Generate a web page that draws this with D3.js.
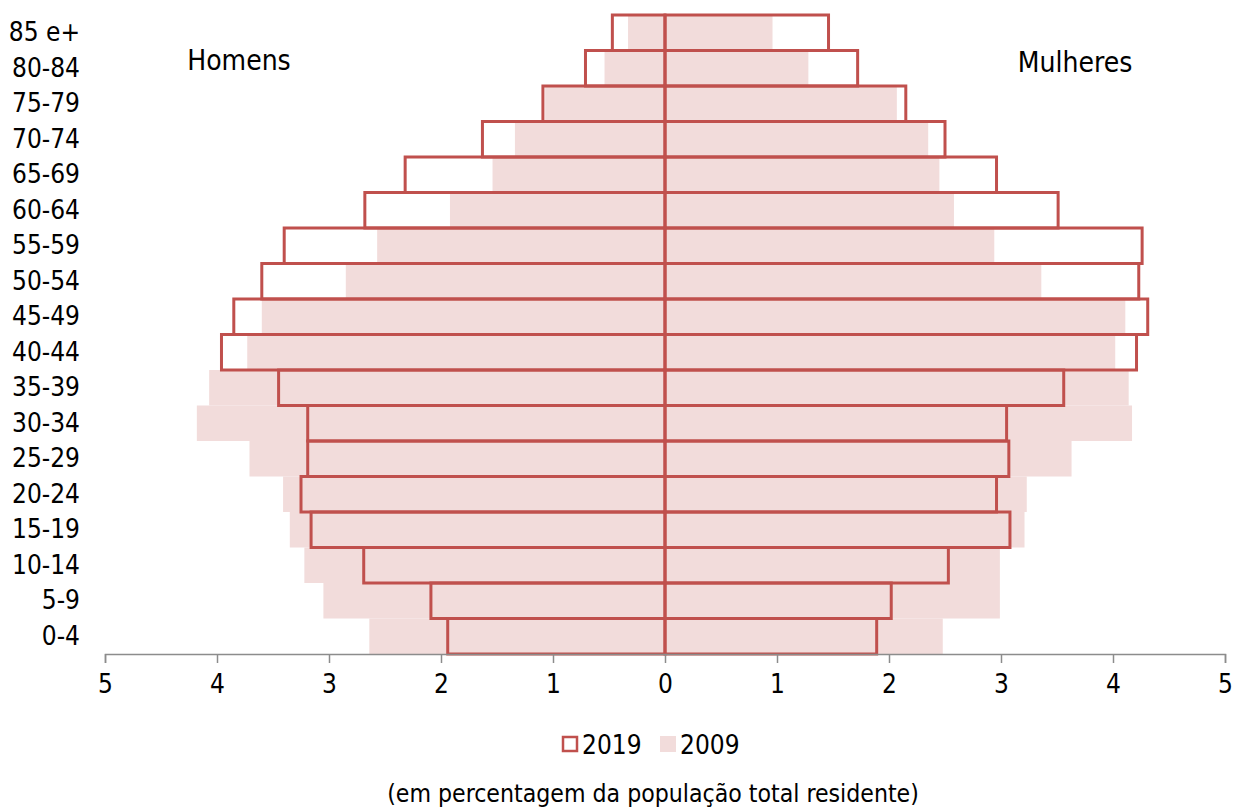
<!DOCTYPE html>
<html><head><meta charset="utf-8">
<script src="https://cdn.jsdelivr.net/npm/d3@7/dist/d3.min.js"></script>
<style>
body{margin:0;background:#fff;}
svg text{font-family:"DejaVu Sans Condensed","DejaVu Sans",sans-serif;font-stretch:condensed;fill:#000;}
</style></head>
<body><svg id="c" width="1236" height="807"></svg>
<script>
const ageGroups = ["85 e+","80-84","75-79","70-74","65-69","60-64","55-59","50-54","45-49","40-44","35-39","30-34","25-29","20-24","15-19","10-14","5-9","0-4"];
const men2019   = [0.47,0.71,1.09,1.63,2.32,2.68,3.40,3.60,3.85,3.96,3.45,3.19,3.19,3.25,3.16,2.69,2.09,1.94];
const men2009   = [0.33,0.54,1.07,1.34,1.54,1.92,2.57,2.85,3.60,3.73,4.07,4.18,3.71,3.41,3.35,3.22,3.05,2.64];
const women2019 = [1.46,1.72,2.15,2.50,2.96,3.51,4.26,4.23,4.31,4.21,3.56,3.05,3.07,2.96,3.08,2.53,2.02,1.89];
const women2009 = [0.96,1.28,2.07,2.35,2.45,2.58,2.94,3.36,4.11,4.02,4.14,4.17,3.63,3.23,3.21,2.99,2.99,2.48];
const tickValues = [-5,-4,-3,-2,-1,0,1,2,3,4,5];
const seriesNames = ["2019","2009"];
const sideLabels = ["Homens","Mulheres"];
const note = "(em percentagem da população total residente)";

const RED = "#C0504D", PINK = "#F2DCDB";
const svg = d3.select("#c");
const x = d3.scaleLinear().domain([-5,5]).range([105,1225]);
const y = d3.scaleBand().domain(ageGroups).range([15,654]).padding(0);
const FS = 26;
const FF = '"DejaVu Sans Condensed","DejaVu Sans",sans-serif';

// 2009 filled bars
const g09 = svg.append("g").attr("fill", PINK);
g09.selectAll("rect.m").data(ageGroups).join("rect").attr("class","m")
  .attr("x", (d,i)=>x(-men2009[i])).attr("y", d=>y(d))
  .attr("width", (d,i)=>x(0)-x(-men2009[i])).attr("height", y.bandwidth());
g09.selectAll("rect.w").data(ageGroups).join("rect").attr("class","w")
  .attr("x", x(0)).attr("y", d=>y(d))
  .attr("width", (d,i)=>x(women2009[i])-x(0)).attr("height", y.bandwidth());

// 2019 outline bars
const g19 = svg.append("g").attr("fill","none").attr("stroke",RED).attr("stroke-width",3);
g19.selectAll("rect.m").data(ageGroups).join("rect").attr("class","m")
  .attr("x", (d,i)=>x(-men2019[i])).attr("y", d=>y(d))
  .attr("width", (d,i)=>x(0)-x(-men2019[i])).attr("height", y.bandwidth());
g19.selectAll("rect.w").data(ageGroups).join("rect").attr("class","w")
  .attr("x", x(0)).attr("y", d=>y(d))
  .attr("width", (d,i)=>x(women2019[i])-x(0)).attr("height", y.bandwidth());

// x axis
const xAxis = d3.axisBottom(x).tickValues(tickValues).tickFormat(d=>Math.abs(d)).tickSize(9).tickPadding(12);
const ax = svg.append("g").attr("transform","translate(0,654)").call(xAxis);
ax.select(".domain").attr("stroke","#8c8c8c").attr("stroke-width",1.5);
ax.selectAll(".tick line").attr("stroke","#8c8c8c").attr("stroke-width",1.5);
ax.selectAll(".tick text").attr("font-size",FS).attr("fill","#000").style("font-family",FF);

// y labels
const yAxis = d3.axisLeft(y).tickSize(0).tickPadding(0);
const ay = svg.append("g").attr("transform","translate(80,0)").call(yAxis);
ay.select(".domain").remove();
ay.selectAll(".tick text").attr("font-size",FS).attr("fill","#000").style("font-family",FF);

// side labels
svg.append("text").attr("x",239).attr("y",60).attr("dy","0.35em").attr("text-anchor","middle").attr("font-size",28).text(sideLabels[0]);
svg.append("text").attr("x",1075).attr("y",62).attr("dy","0.35em").attr("text-anchor","middle").attr("font-size",28).text(sideLabels[1]);

// legend
const lg = svg.append("g");
lg.append("rect").attr("x",563).attr("y",737).attr("width",14).attr("height",14).attr("fill","none").attr("stroke",RED).attr("stroke-width",2.5);
lg.append("text").attr("x",582).attr("y",745).attr("dy","0.35em").attr("font-size",FS).text(seriesNames[0]);
lg.append("rect").attr("x",660).attr("y",736).attr("width",16).attr("height",16).attr("fill",PINK);
lg.append("text").attr("x",680).attr("y",745).attr("dy","0.35em").attr("font-size",FS).text(seriesNames[1]);

svg.append("text").attr("x",653).attr("y",793).attr("dy","0.35em").attr("text-anchor","middle").attr("font-size",24.6).text(note);
</script></body></html>
